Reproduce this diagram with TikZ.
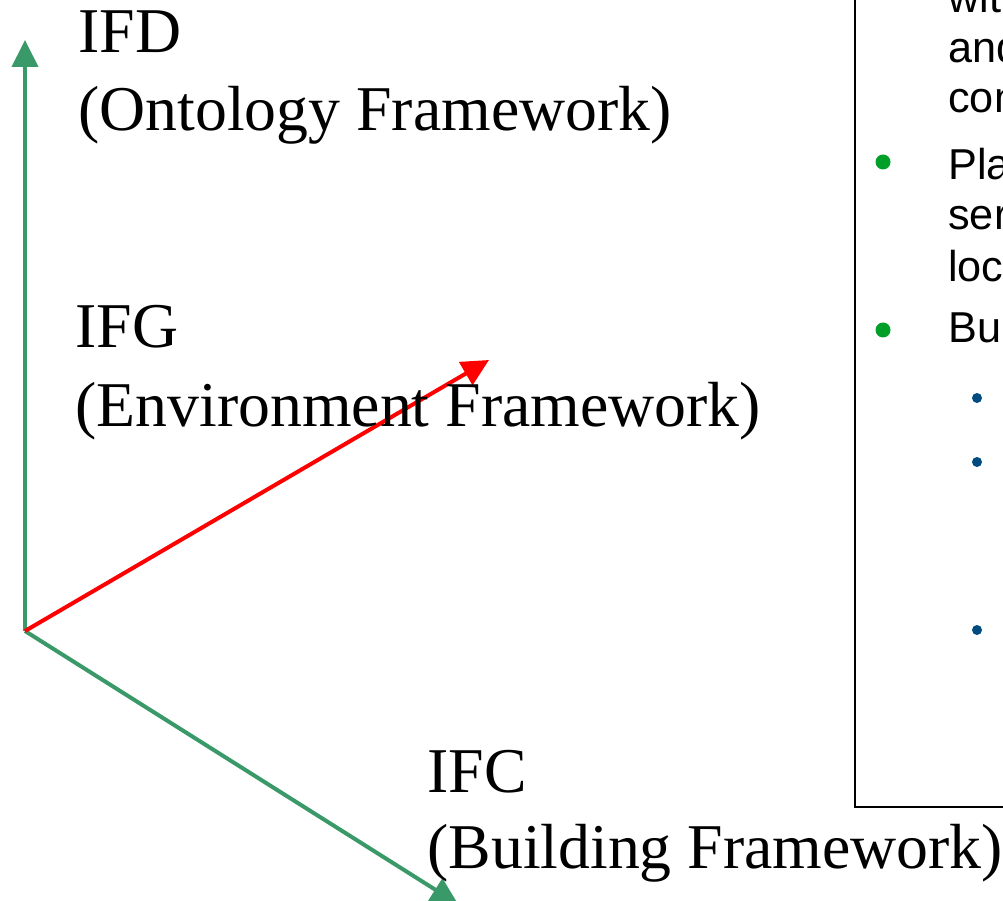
\documentclass[tikz,border=0pt]{standalone}
\usepackage{fontspec}
\setmainfont{Liberation Serif}
\newfontfamily\boxfont{Liberation Sans}
\usetikzlibrary{arrows.meta}
\definecolor{axisgreen}{RGB}{58,153,104}
\definecolor{bulgreen}{RGB}{0,160,40}
\definecolor{bulblue}{RGB}{0,75,128}
\tikzset{
  axis/.style={line width=0.08cm, -{Triangle[length=0.54cm,width=0.52cm]}},
  lbl/.style={anchor=base west, inner sep=0pt, font=\fontsize{36.3}{44}\selectfont},
  boxtxt/.style={anchor=base west, inner sep=0pt, font=\boxfont\fontsize{24.6}{28.5}\selectfont},
}
\begin{document}
\begin{tikzpicture}[x=0.02cm,y=-0.02cm]
\useasboundingbox (0,0) rectangle (1003,901);
\clip (0,0) rectangle (1003,901);

% axes
\coordinate (o) at (25,631);
\coordinate (ifdtip) at (25,40);
\coordinate (ifgtip) at (489,360);
\coordinate (ifctip) at (458,904);
\draw[axis, axisgreen] (o) -- (ifdtip);
\draw[axis, axisgreen] (o) -- (ifctip);
\draw[axis, red] (o) -- (ifgtip);

\node[lbl] (ifd) at (78,53) {IFD};
\node[lbl] (ifdsub) at (78,131) {(Ontology Framework)};
\node[lbl] (ifg) at (75,348) {IFG};
\node[lbl] (ifgsub) at (75,427) {(Environment Framework)};
\node[lbl] (ifc) at (427,792) {IFC};
\node[lbl] (ifcsub) at (427,868) {(Building Framework)};

% text box, cut off at the right
\draw[black, line width=0.04cm] (855,-10) -- (855,807) -- (1020,807);
\foreach \t/\y in {wit/13, and/63, con/113, Pla/180, ser/230, loc/282, Bu/343}{
  \node[boxtxt] (line\y) at (948,\y) {\t};}
\foreach \y in {162,330}{\fill[bulgreen] (883,\y) circle[radius=0.15cm];}
\foreach \y in {398,462,630}{\fill[bulblue] (977,\y) circle[radius=0.1cm];}
\end{tikzpicture}
\end{document}
